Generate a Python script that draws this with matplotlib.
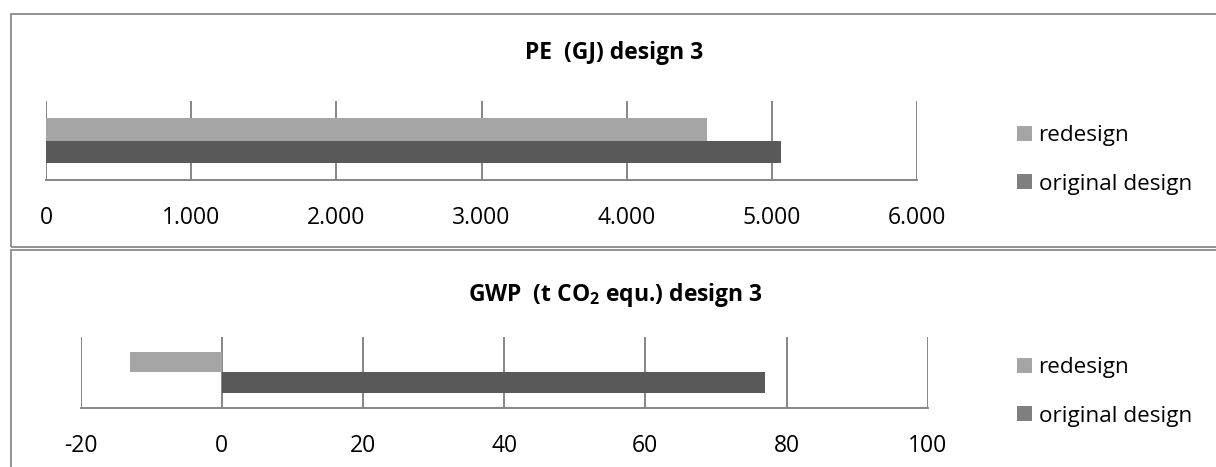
import matplotlib
matplotlib.use("Agg")
import matplotlib.pyplot as plt
from matplotlib.patches import Rectangle, Patch
from matplotlib.ticker import FuncFormatter

plt.rcParams['font.family'] = ['Open Sans', 'DejaVu Sans']
plt.rcParams['mathtext.fontset'] = 'custom'
plt.rcParams['mathtext.rm'] = 'Open Sans'
plt.rcParams['mathtext.bf'] = 'Open Sans:bold'

# ---- data ----
series = ["redesign", "original design"]
pe_values = [4550, 5060]          # GJ
gwp_values = [-13, 77]            # t CO2 equ.
pe_ticks = [0, 1000, 2000, 3000, 4000, 5000, 6000]
gwp_ticks = [-20, 0, 20, 40, 60, 80, 100]
pe_title = "PE  (GJ) design 3"
gwp_title = r"GWP  (t CO$_\mathbf{2}$ equ.) design 3"

bar_colors = ["#a5a5a5", "#595959"]
legend_colors = ["#a5a5a5", "#7f7f7f"]
grid_color = "#868686"

W, H = 1216, 467
fig = plt.figure(figsize=(W / 100, H / 100), dpi=100)


def fx(px):
    return px / W


def fy(py):
    return 1 - py / H


def euro_fmt(v, pos):
    if abs(v) >= 1000:
        return f"{int(v):,}".replace(",", ".")
    return f"{int(v)}"


def make_panel(rect, values, ticks, bar_h):
    ax = fig.add_axes(rect)
    ypos = [bar_h / 2, -bar_h / 2]
    for v, y, c in zip(values, ypos, bar_colors):
        ax.barh(y, v, height=bar_h, color=c, left=0, zorder=3)
    ax.set_xlim(ticks[0], ticks[-1])
    ax.set_ylim(-0.5, 0.5)
    ax.set_xticks(ticks)
    ax.xaxis.set_major_formatter(FuncFormatter(euro_fmt))
    ax.set_yticks([])
    ax.grid(axis='x', color=grid_color, linewidth=1.4, zorder=1)
    for s in ['top', 'right', 'left']:
        ax.spines[s].set_visible(False)
    ax.spines['bottom'].set_color(grid_color)
    ax.spines['bottom'].set_linewidth(1.4)
    ax.tick_params(axis='x', length=0, pad=19, labelsize=16.5, colors='black')
    ax.patch.set_alpha(0)
    return ax


ax1 = make_panel([fx(46), fy(180), fx(917 - 46), (180 - 101) / H],
                 pe_values, pe_ticks, 0.291)
ax2 = make_panel([fx(80.7), fy(407.7), fx(927.7 - 80.7), (407.7 - 337) / H],
                 gwp_values, gwp_ticks, 0.287)

fig.text(fx(614), fy(53), pe_title, ha='center', va='center',
         fontsize=16.5, fontweight='bold')
fig.text(fx(615), fy(295), gwp_title, ha='center', va='center',
         fontsize=16.5, fontweight='bold')

handles = [Patch(facecolor=c, edgecolor='none', label=l)
           for c, l in zip(legend_colors, series)]
for ycen in (160, 392):
    fig.legend(handles=handles, loc='center left',
               bbox_to_anchor=(fx(1006), fy(ycen)), frameon=False,
               fontsize=16.2, handlelength=0.65, handleheight=0.65,
               handletextpad=0.3, labelspacing=1.22, borderpad=0)

# panel borders
border = "#8a8a8a"
fig.add_artist(Rectangle((fx(10.5), fy(246.5)), fx(1300), (246.5 - 13.5) / H,
                         transform=fig.transFigure, fill=False,
                         edgecolor=border, linewidth=1.3))
fig.add_artist(Rectangle((fx(10.5), fy(600)), fx(1300), (600 - 249.5) / H,
                         transform=fig.transFigure, fill=False,
                         edgecolor=border, linewidth=1.3))

fig.savefig("out.png", dpi=100)
